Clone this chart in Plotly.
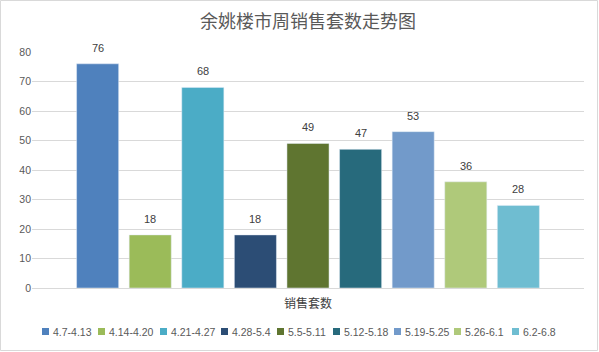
import plotly.graph_objects as go

title = "余姚楼市周销售套数走势图"
category = ["销售套数"]
weeks = ["4.7-4.13", "4.14-4.20", "4.21-4.27", "4.28-5.4", "5.5-5.11",
         "5.12-5.18", "5.19-5.25", "5.26-6.1", "6.2-6.8"]
values = [76, 18, 68, 18, 49, 47, 53, 36, 28]
colors = ["#4F81BD", "#9BBB59", "#4BACC6", "#2C4D75", "#5F7530",
          "#276A7C", "#729ACA", "#AFC97A", "#6FBDD1"]

W, H = 599, 352
L, R, T, B = 32, 15, 52, 64
pw, ph = W - L - R, H - T - B
BARGAP = 0.1425

def px_x(px):
    return (px - L) / pw

def px_y(py):
    return (H - B - py) / ph

fig = go.Figure()
annotations = []
n = len(values)
slot = (1 - BARGAP) / n
for i, (name, v, c) in enumerate(zip(weeks, values, colors)):
    fig.add_trace(go.Bar(
        x=category, y=[v], name=name, marker_color=c,
        showlegend=False,
    ))
    # value label above bar (category index 0, offset within group)
    annotations.append(dict(
        text=str(v), xref="x", yref="y",
        x=-(1 - BARGAP) / 2 + (i + 0.5) * slot, y=v,
        xanchor="center", yanchor="bottom", yshift=8, showarrow=False,
        font=dict(family="Liberation Sans", size=11, color="#404040")))

# manual legend (compact, Excel style)
legend_px = [42, 98, 160, 221, 277, 333, 394, 454, 512]
shapes = []
ly = 331.5
for name, c, x0 in zip(weeks, colors, legend_px):
    shapes.append(dict(type="rect", xref="paper", yref="paper",
                       x0=px_x(x0), x1=px_x(x0 + 7), y0=px_y(ly + 3.5), y1=px_y(ly - 3.5),
                       fillcolor=c, line=dict(width=0)))
    annotations.append(dict(text=name, xref="paper", yref="paper",
                            x=px_x(x0 + 9), y=px_y(ly), xanchor="left", yanchor="middle",
                            showarrow=False,
                            font=dict(family="Liberation Sans", size=10.5, color="#595959")))

# chart border
shapes.append(dict(type="rect", xref="paper", yref="paper",
                   x0=px_x(0.5), x1=px_x(597.5), y0=px_y(350.5), y1=px_y(0.5),
                   line=dict(color="#D9D9D9", width=1), fillcolor="rgba(0,0,0,0)"))

fig.update_layout(
    width=W, height=H,
    margin=dict(l=L, r=R, t=T, b=B),
    paper_bgcolor="white", plot_bgcolor="white",
    barmode="group", bargap=BARGAP, bargroupgap=0.2,
    title=dict(text=title, x=0.5, xref="paper", xanchor="center",
               y=1 - 22 / H, yref="container", yanchor="middle",
               font=dict(family="Noto Sans CJK SC", size=18, color="#595959")),
    xaxis=dict(showgrid=False, showline=True, linecolor="#D9D9D9", linewidth=1,
               ticks="", ticklabelstandoff=5,
               tickfont=dict(family="Noto Sans CJK SC", size=12, color="#404040")),
    yaxis=dict(range=[0, 80], dtick=10, showgrid=True, gridcolor="#D9D9D9",
               zeroline=False, showline=False, ticks="",
               tickfont=dict(family="Liberation Sans", size=10.5, color="#595959")),
    shapes=shapes, annotations=annotations,
    showlegend=False,
)

fig.write_html("out.html")
